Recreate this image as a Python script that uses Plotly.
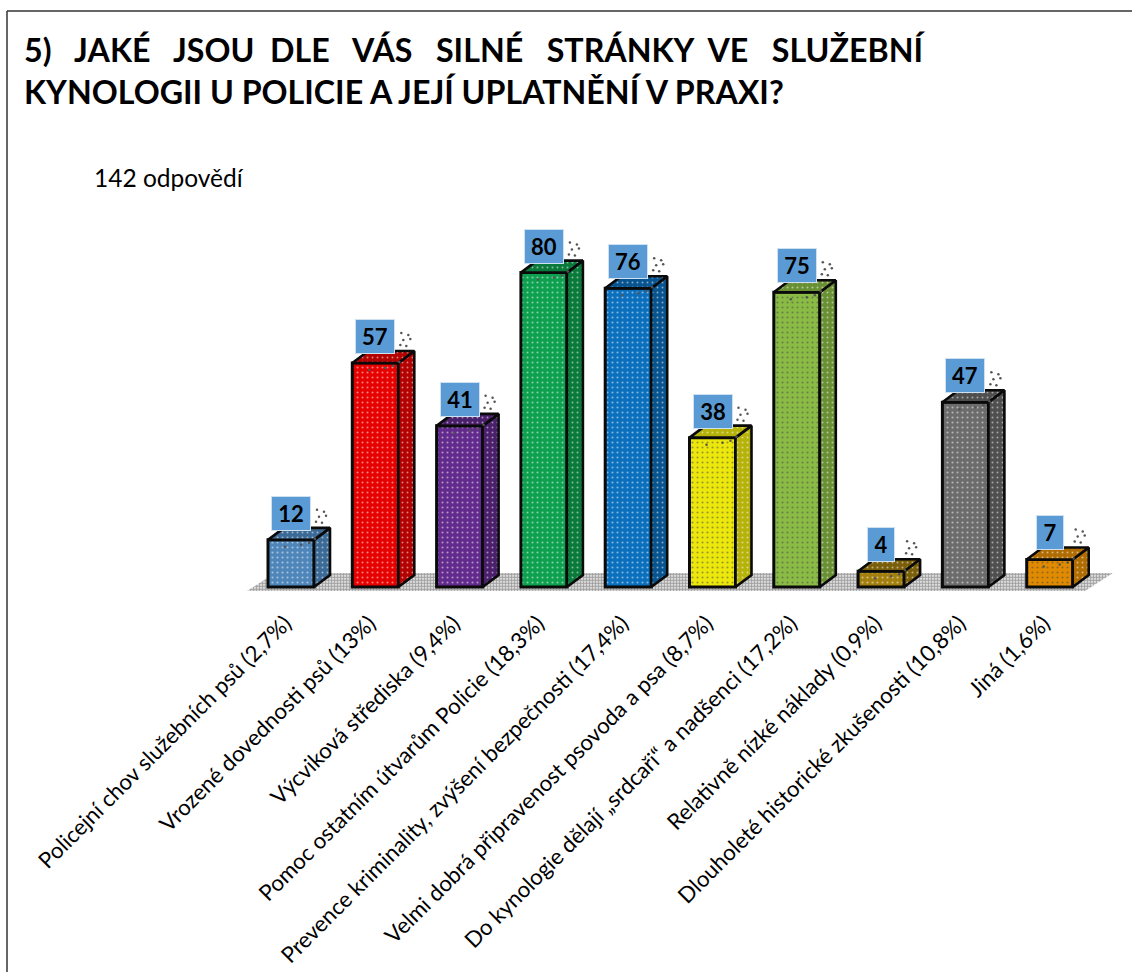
import plotly.graph_objects as go

categories = ["Policejní chov služebních psů (2,7%)", "Vrozené dovednosti psů (13%)", "Výcviková střediska (9,4%)",
              "Pomoc ostatním útvarům Policie (18,3%)", "Prevence kriminality, zvýšení bezpečnosti (17,4%)",
              "Velmi dobrá připravenost psovoda a psa (8,7%)", "Do kynologie dělají „srdcaři“ a nadšenci (17,2%)",
              "Relativně nízké náklady (0,9%)", "Dlouholeté historické zkušenosti (10,8%)", "Jiná (1,6%)"]
values = [12, 57, 41, 80, 76, 38, 75, 4, 47, 7]
front_colors = ["#4f86ba", "#e60000", "#622a8c", "#0da04e", "#0a6fbd", "#ecE80c", "#8abb45", "#a37f0e", "#6c6c6c", "#e08a00"]
side_colors = ["#3c6a96", "#b30000", "#4a1f6b", "#0a7a3b", "#085490", "#b5b20a", "#6a9034", "#7a5f0a", "#4f4f4f", "#b06c00"]
title_lines = ["5)\u00a0\u00a0\u00a0JAKÉ\u00a0\u00a0\u00a0JSOU\u00a0\u00a0DLE\u00a0\u00a0\u00a0VÁS\u00a0\u00a0\u00a0SILNÉ\u00a0\u00a0\u00a0STRÁNKY\u00a0\u00a0VE\u00a0\u00a0\u00a0SLUŽEBNÍ",
               "KYNOLOGII U POLICIE A JEJÍ UPLATNĚNÍ V PRAXI?"]
subtitle = "142 odpovědí"

W, H = 1132, 972
PX_X, PX_Y = 84.3, 3.93        # pixels per data unit
X0, Y0 = 291.0, 587.0          # pixel of x=0 and y=0
BOTTOM = 593.0
DX, DY = 16 / PX_X, 12 / PX_Y  # 3D depth
HALF = 23 / PX_X

def ux(p): return p / PX_X
def uy(p): return p / PX_Y

fig = go.Figure()
xs = list(range(len(values)))

# floor, on the base axes so that it lies under the bars
fig.add_trace(go.Scatter(
    x=[ux(247 - X0), ux(1085 - X0), ux(1113 - X0), ux(275 - X0), ux(247 - X0)],
    y=[uy(Y0 - 591), uy(Y0 - 591), uy(Y0 - 573), uy(Y0 - 573), uy(Y0 - 591)],
    mode="lines", line=dict(width=0), fill="toself", fillcolor="#ffffff",
    fillpattern=dict(shape=".", fgcolor="#444444", bgcolor="#ffffff", size=3, solidity=0.7),
    hoverinfo="skip", showlegend=False, xaxis="x", yaxis="y"))

# front faces
fig.add_trace(go.Bar(x=xs, y=values, width=2 * HALF, xaxis="x2", yaxis="y2",
                     marker=dict(color=front_colors, line=dict(color="#0a0a0a", width=3),
                                 pattern=dict(shape=".", fgcolor="#ffffff", size=5, solidity=0.14)),
                     hoverinfo="skip", showlegend=False))

# side and top faces
for x, v, c in zip(xs, values, side_colors):
    r = x + HALF
    l = x - HALF
    for px, py in (([r, r + DX, r + DX, r, r], [0, DY, v + DY, v, 0]),
                   ([l, l + DX, r + DX, r, l], [v, v + DY, v + DY, v, v])):
        fig.add_trace(go.Scatter(x=px, y=py, mode="lines", line=dict(color="#0a0a0a", width=2.6),
                                 fill="toself", fillcolor=c, xaxis="x2", yaxis="y2",
                                 fillpattern=dict(shape=".", fgcolor="#ffffff", bgcolor=c, size=5, solidity=0.12),
                                 hoverinfo="skip", showlegend=False))

# speckles beside the labels and on the bar tops
speck_dx = [26, 33, 28, 35, 25, 31, 10, 18, 24, -6]
speck_dy = [30, 28, 23, 24, 18, 17, -5, -3, 1, -7]
sx, sy = [], []
for x, v in zip(xs, values):
    for a, b in zip(speck_dx, speck_dy):
        sx.append(x + ux(a)); sy.append(v + uy(b))
fig.add_trace(go.Scatter(x=sx, y=sy, mode="markers", marker=dict(size=2.5, color="#555555"),
                         hoverinfo="skip", showlegend=False, xaxis="x2", yaxis="y2"))

# value labels
for x, v in zip(xs, values):
    fig.add_annotation(x=x, y=v, xref="x2", yref="y2", text=f"<b>{v}</b>", showarrow=False, yanchor="bottom",
                       yshift=9, width=38 if v >= 10 else 26, height=33,
                       font=dict(family="Lato", size=22, color="#000000"), bgcolor="#5b9bd5",
                       bordercolor="#cfe0f0", borderwidth=1, borderpad=0)

fig.add_annotation(xref="paper", yref="paper", x=92 / W, y=1 - 177 / H, xanchor="left", yanchor="middle",
                   text=subtitle, showarrow=False, font=dict(family="Lato", size=24.5, color="#000000"))

x_range = [-X0 / PX_X, (W - X0) / PX_X]
y_range = [(Y0 - BOTTOM) / PX_Y, Y0 / PX_Y]
fig.update_layout(
    width=W, height=H, margin=dict(l=0, r=0, t=0, b=0, autoexpand=False),
    paper_bgcolor="white", plot_bgcolor="rgba(0,0,0,0)", showlegend=False, barmode="overlay",
    title=dict(text="<b>" + "<br>".join(title_lines) + "</b>", x=24 / W, xanchor="left", xref="paper",
               y=1 - 62 / H, font=dict(family="Lato", size=32.2, color="#000000")),
    xaxis=dict(range=x_range, visible=False),
    yaxis=dict(domain=[1 - BOTTOM / H, 1], range=y_range, visible=False),
    xaxis2=dict(range=x_range, overlaying="x", anchor="y2", tickmode="array", tickvals=xs, ticktext=categories,
                tickangle=-45, showgrid=False, zeroline=False, showline=False, ticks="", automargin=False,
                ticklabelstandoff=12, ticklabelshift=-6, tickfont=dict(family="Lato", size=22.2, color="#000000")),
    yaxis2=dict(domain=[1 - BOTTOM / H, 1], range=y_range, overlaying="y", anchor="x2", visible=False),
    shapes=[dict(type="line", xref="paper", yref="paper", x0=7 / W, x1=1, y0=1 - 11 / H, y1=1 - 11 / H,
                 line=dict(color="#333333", width=1.5)),
            dict(type="line", xref="paper", yref="paper", x0=7 / W, x1=7 / W, y0=1 - 11 / H, y1=0,
                 line=dict(color="#333333", width=1.5))],
)
fig.write_html("out.html", config=dict(displayModeBar=False),
               post_script="document.body.style.margin='0';document.body.style.overflow='hidden';")
